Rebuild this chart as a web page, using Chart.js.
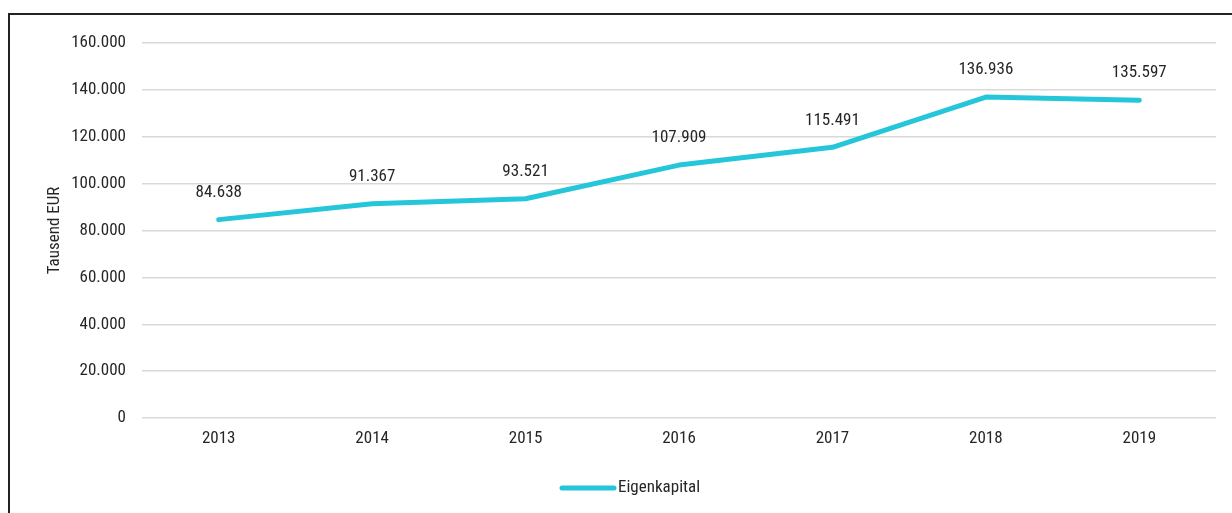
<!DOCTYPE html>
<html>
<head>
<meta charset="utf-8">
<script src="https://cdn.jsdelivr.net/npm/chart.js@4"></script>
<style>
  html, body { margin: 0; padding: 0; background: #fff; }
  canvas { display: block; }
</style>
</head>
<body>
<canvas id="chart" width="1232" height="513"></canvas>
<script>
// Eigenkapital in Tausend EUR, 2013-2019
const years = ['2013', '2014', '2015', '2016', '2017', '2018', '2019'];
const equity = [84638, 91367, 93521, 107909, 115491, 136936, 135597];
const seriesLabel = 'Eigenkapital';
const axisTitle = 'Tausend EUR';

const FONT = "'Liberation Sans Narrow', 'Arial Narrow', 'Roboto Condensed', sans-serif";
const FONT_SIZE = 17;
const LINE_COLOR = '#26c6da';
const TEXT_COLOR = '#262626';

const fmt = v => v.toLocaleString('de-DE');

// Frame around the chart, value labels above each point and the legend entry
const decorations = {
    id: 'decorations',
    beforeDraw(chart) {
        const ctx = chart.ctx;
        ctx.save();
        ctx.fillStyle = '#fff';
        ctx.fillRect(0, 0, chart.width, chart.height);
        ctx.strokeStyle = '#222';
        ctx.lineWidth = 2;
        ctx.strokeRect(9, 14, chart.width + 20, chart.height + 20);
        ctx.restore();
    },
    afterDatasetsDraw(chart) {
        const ctx = chart.ctx;
        const meta = chart.getDatasetMeta(0);
        const values = chart.data.datasets[0].data;
        ctx.save();
        ctx.font = FONT_SIZE + 'px ' + FONT;
        ctx.fillStyle = TEXT_COLOR;
        ctx.textAlign = 'center';
        ctx.textBaseline = 'middle';
        meta.data.forEach((pt, i) => {
            ctx.fillText(fmt(values[i]), pt.x, pt.y - 27);
        });

        // legend
        const ds = chart.data.datasets[0];
        const y = 488;
        ctx.strokeStyle = ds.borderColor;
        ctx.lineWidth = 5;
        ctx.lineCap = 'round';
        ctx.beginPath();
        ctx.moveTo(562, y);
        ctx.lineTo(614, y);
        ctx.stroke();
        ctx.textAlign = 'left';
        ctx.fillStyle = TEXT_COLOR;
        ctx.fillText(ds.label, 618, y);
        ctx.restore();
    }
};

new Chart(document.getElementById('chart'), {
    type: 'line',
    data: {
        labels: years,
        datasets: [{
            label: seriesLabel,
            data: equity,
            borderColor: LINE_COLOR,
            backgroundColor: LINE_COLOR,
            borderWidth: 5,
            borderCapStyle: 'round',
            borderJoinStyle: 'round',
            pointRadius: 0,
            tension: 0,
            fill: false,
        }],
    },
    options: {
        responsive: false,
        animation: false,
        layout: { padding: { top: 43, right: 16, bottom: 65, left: 0 } },
        scales: {
            x: {
                offset: true,
                grid: { display: false, drawTicks: false },
                border: { display: false },
                ticks: { color: TEXT_COLOR, font: { family: FONT, size: FONT_SIZE }, padding: 11 },
                afterFit(scale) { scale.height = 30; },
            },
            y: {
                min: 0,
                max: 160000,
                grid: { color: '#d9d9d9', lineWidth: 1.5, drawTicks: false },
                border: { display: false },
                ticks: {
                    stepSize: 20000,
                    color: TEXT_COLOR,
                    font: { family: FONT, size: FONT_SIZE },
                    padding: 16,
                    callback: v => fmt(v),
                },
                title: {
                    display: true,
                    text: axisTitle,
                    color: TEXT_COLOR,
                    font: { family: FONT, size: FONT_SIZE },
                    padding: { top: 45, bottom: 0 },
                },
                afterFit(scale) { scale.width = 142; },
            },
        },
        plugins: {
            legend: { display: false },
            tooltip: { enabled: false },
        },
    },
    plugins: [decorations],
});
</script>
</body>
</html>
